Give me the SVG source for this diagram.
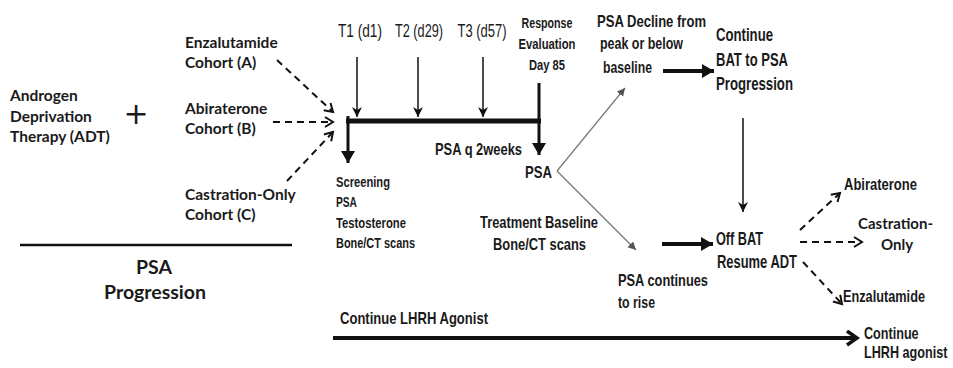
<svg xmlns="http://www.w3.org/2000/svg" width="953" height="368" viewBox="0 0 953 368">
<style>
.c{font-family:Lato,"Open Sans",sans-serif;font-weight:bold;fill:#1a1a1a}
.n{font-family:"Liberation Sans",Arial,sans-serif;font-weight:bold;fill:#1a1a1a}
.r{font-family:"Liberation Sans",Arial,sans-serif;fill:#1a1a1a}
.m{text-anchor:middle}
.ln{fill:none;stroke:#111}
.ds{stroke-dasharray:7 5;stroke-width:2}
</style>
<defs>
<marker id="mv" markerUnits="userSpaceOnUse" markerWidth="14" markerHeight="14" refX="10" refY="6" orient="auto"><path d="M2,1 L10,6 L2,11" fill="none" stroke="#111" stroke-width="2"/></marker>
<marker id="mt" markerUnits="userSpaceOnUse" markerWidth="14" markerHeight="14" refX="10" refY="5" orient="auto"><path d="M0,0 L10,5 L0,10 L3,5 Z" fill="#111"/></marker>
<marker id="mf" markerUnits="userSpaceOnUse" markerWidth="16" markerHeight="16" refX="12" refY="7" orient="auto"><path d="M0,0 L12,7 L0,14 Z" fill="#111"/></marker>
<marker id="mg" markerUnits="userSpaceOnUse" markerWidth="12" markerHeight="12" refX="8" refY="4" orient="auto"><path d="M0,0 L8,4 L0,8 Z" fill="#555"/></marker>
<marker id="mc" markerUnits="userSpaceOnUse" markerWidth="18" markerHeight="18" refX="12" refY="8" orient="auto"><path d="M2,1 L12,8 L2,15" fill="none" stroke="#111" stroke-width="3.5"/></marker>
</defs>
<g id="connectors">
<path class="ln ds" d="M277,60 L333,112" marker-end="url(#mv)"/>
<path class="ln ds" d="M273,122 L333,122" marker-end="url(#mv)"/>
<path class="ln ds" d="M287,181 L333,132" marker-end="url(#mv)"/>
<path class="ln" d="M20,245 L292,245" stroke-width="2.5"/>
<path class="ln" d="M346,121 L541,121" stroke-width="5"/>
<path class="ln" d="M348,116 L348,163" stroke-width="3" marker-end="url(#mf)"/>
<path class="ln" d="M357,57 L357,117" stroke-width="1.5" marker-end="url(#mt)"/>
<path class="ln" d="M418,57 L418,117" stroke-width="1.5" marker-end="url(#mt)"/>
<path class="ln" d="M483,57 L483,117" stroke-width="1.5" marker-end="url(#mt)"/>
<path class="ln" d="M539,83 L539,155" stroke-width="3" marker-end="url(#mf)"/>
<path d="M557,171 L625,88" fill="none" stroke="#777" stroke-width="1.2" marker-end="url(#mg)"/>
<path d="M557,171 L636,250" fill="none" stroke="#777" stroke-width="1.2" marker-end="url(#mg)"/>
<path class="ln" d="M663,71 L714,71" stroke-width="4" marker-end="url(#mf)"/>
<path class="ln" d="M743,118 L743,212" stroke-width="1.5" marker-end="url(#mt)"/>
<path class="ln" d="M662,244 L713,244" stroke-width="4" marker-end="url(#mf)"/>
<path class="ln ds" d="M800,230 L840,193" marker-end="url(#mv)"/>
<path class="ln ds" d="M800,242 L862,242" marker-end="url(#mv)"/>
<path class="ln ds" d="M803,262 L842,304" marker-end="url(#mv)"/>
<path class="ln" d="M333,338 L857,338" stroke-width="4" marker-end="url(#mc)"/>
</g>
<g id="adt" class="c" font-size="15.5"><text x="10" y="101">Androgen</text><text x="10" y="122">Deprivation</text><text x="10" y="142">Therapy (ADT)</text></g>
<g id="plus"><text x="136" y="124" font-family="'DejaVu Sans',sans-serif" font-size="30" text-anchor="middle" fill="#1a1a1a">+</text></g>
<g id="cohortA" class="c" font-size="15.5"><text x="185" y="48">Enzalutamide</text><text x="185" y="68">Cohort (A)</text></g>
<g id="cohortB" class="c" font-size="15.5"><text x="185" y="114">Abiraterone</text><text x="185" y="134">Cohort (B)</text></g>
<g id="cohortC" class="c" font-size="15.5"><text x="185" y="200">Castration-Only</text><text x="185" y="220">Cohort (C)</text></g>
<g id="psaprog" class="c m" font-size="19.5"><text x="154" y="274">PSA</text><text x="155" y="299">Progression</text></g>
<g id="t1" class="r m" font-size="17.5"><text x="360" y="37" textLength="44" lengthAdjust="spacingAndGlyphs">T1 (d1)</text></g>
<g id="t2" class="r m" font-size="17.5"><text x="419" y="37" textLength="48" lengthAdjust="spacingAndGlyphs">T2 (d29)</text></g>
<g id="t3" class="r m" font-size="17.5"><text x="482" y="37" textLength="49" lengthAdjust="spacingAndGlyphs">T3 (d57)</text></g>
<g id="response" class="n m" font-size="15.5"><text x="547" y="28" textLength="51" lengthAdjust="spacingAndGlyphs">Response</text><text x="547" y="49" textLength="57" lengthAdjust="spacingAndGlyphs">Evaluation</text><text x="547" y="70" textLength="36" lengthAdjust="spacingAndGlyphs">Day 85</text></g>
<g id="psaq" class="n" font-size="17"><text x="435" y="155" textLength="87" lengthAdjust="spacingAndGlyphs">PSA q 2weeks</text></g>
<g id="psa" class="n" font-size="17"><text x="525" y="178" textLength="27" lengthAdjust="spacingAndGlyphs">PSA</text></g>
<g id="screening" class="n" font-size="15"><text x="336" y="187" textLength="54" lengthAdjust="spacingAndGlyphs">Screening</text><text x="336" y="207" textLength="21" lengthAdjust="spacingAndGlyphs">PSA</text><text x="336" y="228" textLength="70" lengthAdjust="spacingAndGlyphs">Testosterone</text><text x="336" y="248" textLength="79" lengthAdjust="spacingAndGlyphs">Bone/CT scans</text></g>
<g id="treatment" class="n" font-size="17"><text x="480" y="228" textLength="118" lengthAdjust="spacingAndGlyphs">Treatment Baseline</text><text x="493" y="250" textLength="93" lengthAdjust="spacingAndGlyphs">Bone/CT scans</text></g>
<g id="decline" class="n" font-size="17"><text x="597" y="27" textLength="109" lengthAdjust="spacingAndGlyphs">PSA Decline from</text><text x="600" y="49" textLength="83" lengthAdjust="spacingAndGlyphs">peak or below</text><text x="603" y="73" textLength="49" lengthAdjust="spacingAndGlyphs">baseline</text></g>
<g id="continueBAT" class="n" font-size="18.5"><text x="716" y="41" textLength="57" lengthAdjust="spacingAndGlyphs">Continue</text><text x="716" y="66" textLength="72" lengthAdjust="spacingAndGlyphs">BAT to PSA</text><text x="716" y="90" textLength="77" lengthAdjust="spacingAndGlyphs">Progression</text></g>
<g id="offBAT" class="n" font-size="17.5"><text x="716" y="245" textLength="47" lengthAdjust="spacingAndGlyphs">Off BAT</text><text x="717" y="268" textLength="80" lengthAdjust="spacingAndGlyphs">Resume ADT</text></g>
<g id="rise" class="n" font-size="17"><text x="618" y="286" textLength="90" lengthAdjust="spacingAndGlyphs">PSA continues</text><text x="618" y="308" textLength="37" lengthAdjust="spacingAndGlyphs">to rise</text></g>
<g id="abi" class="n" font-size="17"><text x="844" y="190" textLength="73" lengthAdjust="spacingAndGlyphs">Abiraterone</text></g>
<g id="castr" class="c" font-size="15"><text x="858" y="229">Castration-</text><text x="897" y="250" class="m">Only</text></g>
<g id="enza" class="n" font-size="17"><text x="843" y="302" textLength="82" lengthAdjust="spacingAndGlyphs">Enzalutamide</text></g>
<g id="lhrh" class="n" font-size="17"><text x="340" y="324" textLength="148" lengthAdjust="spacingAndGlyphs">Continue LHRH Agonist</text></g>
<g id="lhrh2" class="n" font-size="16.5" transform="translate(864,0) scale(0.765,1)"><text x="0" y="339">Continue</text><text x="0" y="358">LHRH agonist</text></g>
</svg>
